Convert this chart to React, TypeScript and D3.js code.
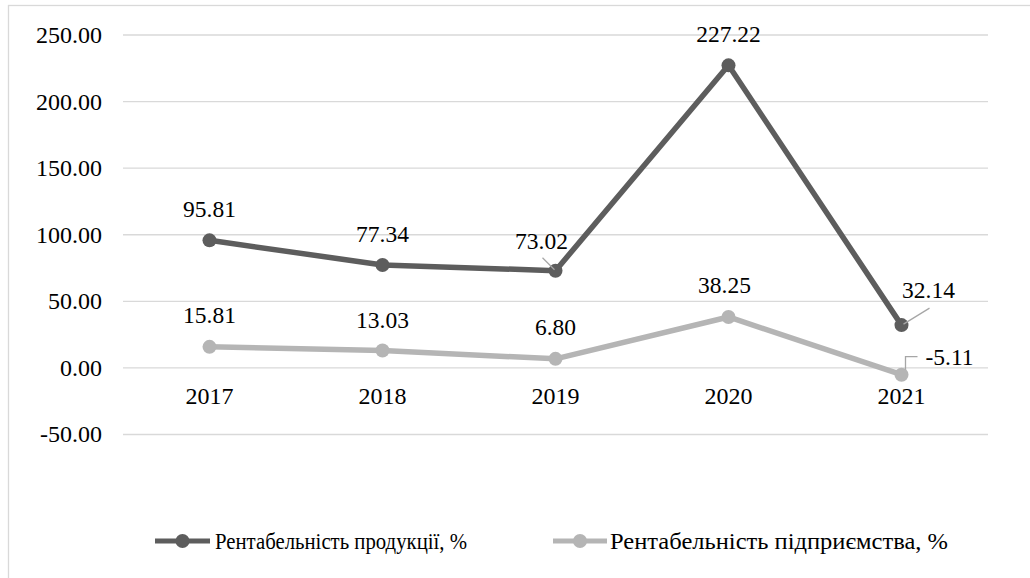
import React from "react";
import * as d3 from "d3";

const years = ["2017", "2018", "2019", "2020", "2021"];
const productProfit = [95.81, 77.34, 73.02, 227.22, 32.14];
const enterpriseProfit = [15.81, 13.03, 6.8, 38.25, -5.11];
const yTicks = [-50, 0, 50, 100, 150, 200, 250];
const seriesNames = ["Рентабельність продукції, %", "Рентабельність підприємства, %"];

const W = 1030;
const H = 578;
const FONT = '"Liberation Serif", Tinos, "Times New Roman", "Noto Serif", "DejaVu Serif", serif';
const DARK = "#5d5d5d";
const LIGHT = "#b5b5b5";
const GRID = "#d9d9d9";
const LEADER = "#a6a6a6";

// label offsets (dx, dy of baseline relative to point)
const darkLabelOffsets: [number, number][] = [[0, -23], [0, -23], [-14, -22], [0, -23], [27, -27]];
const lightLabelOffsets: [number, number][] = [[0, -24], [0, -23], [0, -24], [-4, -24], [48, -10]];

// legend layout
const legendItems = [
  { x1: 155, x2: 210, tx: 215, tw: 252 },
  { x1: 553, x2: 607, tx: 610, tw: 338 },
];

const css = `
svg.chart text, svg.chart text.lbl, #root svg.chart text.lbl { font-family: ${FONT} !important; }
`;

export default function App() {
  const x = d3.scaleBand<string>().domain(years).range([123, 988]);
  const y = d3.scaleLinear().domain([-50, 250]).range([434.5, 35]);
  const cx = (i: number) => (x(years[i]) as number) + x.bandwidth() / 2;

  const line = d3
    .line<number>()
    .x((_, i) => cx(i))
    .y((d) => y(d));

  const series = [
    { values: productProfit, color: DARK, offsets: darkLabelOffsets },
    { values: enterpriseProfit, color: LIGHT, offsets: lightLabelOffsets },
  ];

  const ts = { fontFamily: FONT };

  return (
    <div style={{ position: "absolute", left: 0, top: 0 }}>
      <style>{css}</style>
      <svg className="chart" width={W} height={H} style={{ display: "block" }}>
        <rect x={0} y={0} width={W} height={H} fill="#fff" />
        <rect x={8.5} y={5.5} width={W + 20} height={H + 20} fill="none" stroke={GRID} strokeWidth={1.3} />
        {yTicks.map((t) => (
          <g key={t}>
            <line x1={123} x2={988} y1={y(t)} y2={y(t)} stroke={GRID} strokeWidth={1.3} />
            <text className="lbl" x={102} y={y(t)} dy="0.33em" textAnchor="end" fontSize={24} fill="#000" style={ts}>
              {t.toFixed(2)}
            </text>
          </g>
        ))}
        {years.map((yr, i) => (
          <text className="lbl" key={yr} x={cx(i)} y={y(0) + 36} textAnchor="middle" fontSize={24} fill="#000" style={ts}>
            {yr}
          </text>
        ))}
        {series.map((s, si) => (
          <g key={si}>
            <path d={line(s.values) || ""} fill="none" stroke={s.color} strokeWidth={5.5} strokeLinejoin="round" />
            {s.values.map((v, i) => (
              <circle key={i} cx={cx(i)} cy={y(v)} r={7} fill={s.color} />
            ))}
          </g>
        ))}
        {/* leader lines */}
        <line x1={cx(2) - 13} y1={y(productProfit[2]) - 13} x2={cx(2) - 1} y2={y(productProfit[2]) - 1} stroke={LEADER} strokeWidth={1.3} />
        <line x1={cx(4) + 2} y1={y(productProfit[4]) - 1} x2={cx(4) + 28} y2={y(productProfit[4]) - 17} stroke={LEADER} strokeWidth={1.3} />
        <polyline
          points={`${cx(4) + 4},${y(enterpriseProfit[4]) - 5} ${cx(4) + 4},${y(enterpriseProfit[4]) - 18} ${cx(4) + 16},${y(enterpriseProfit[4]) - 18}`}
          fill="none"
          stroke={LEADER}
          strokeWidth={1.3}
        />
        {series.map((s, si) =>
          s.values.map((v, i) => (
            <text
              className="lbl"
              key={`${si}-${i}`}
              x={cx(i) + s.offsets[i][0]}
              y={y(v) + s.offsets[i][1]}
              textAnchor="middle"
              fontSize={23.5}
              fill="#000"
              style={ts}
            >
              {v.toFixed(2)}
            </text>
          ))
        )}
        {/* legend */}
        {seriesNames.map((name, i) => {
          const it = legendItems[i];
          const color = i === 0 ? DARK : LIGHT;
          return (
            <g key={name}>
              <line x1={it.x1} x2={it.x2} y1={541} y2={541} stroke={color} strokeWidth={5} />
              <circle cx={(it.x1 + it.x2) / 2} cy={541} r={7} fill={color} />
              <text
                className="lbl"
                x={it.tx}
                y={549}
                textLength={it.tw}
                lengthAdjust="spacingAndGlyphs"
                fontSize={24}
                fill="#000"
                style={ts}
              >
                {name}
              </text>
            </g>
          );
        })}
      </svg>
    </div>
  );
}
